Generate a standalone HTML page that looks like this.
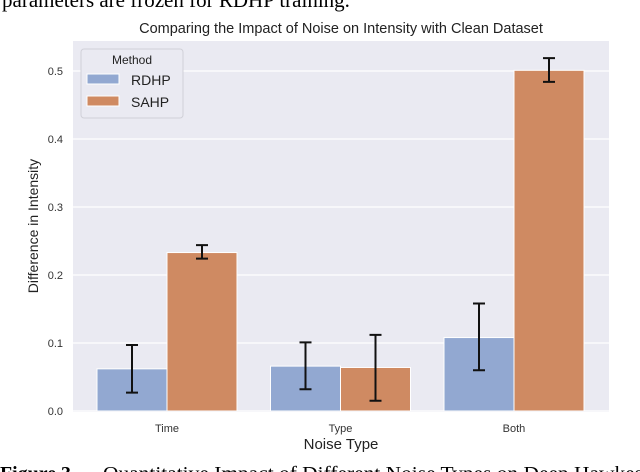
<!DOCTYPE html>
<html><head><meta charset="utf-8"><style>
body{margin:0;background:#fff;width:640px;height:472px;overflow:hidden}
svg{display:block}
</style></head><body>
<svg id="chart" width="640" height="472" xmlns="http://www.w3.org/2000/svg">
<text x="2" y="7" font-family="Liberation Serif, serif" font-size="21" fill="#000">parameters are frozen for RDHP training.</text>
<text x="341" y="33" text-anchor="middle" font-family="Liberation Sans, sans-serif" font-size="14.5" fill="#222">Comparing the Impact of Noise on Intensity with Clean Dataset</text>
<rect x="73" y="41" width="536" height="371" fill="#eaeaf2"/>
<g id="grid"></g>
<g id="bars"></g>
<g id="errs"></g>
<g id="yticks"></g>
<g id="xticks"></g>
<text x="341" y="449" text-anchor="middle" font-family="Liberation Sans, sans-serif" font-size="15" fill="#222">Noise Type</text>
<text transform="translate(38,226) rotate(-90)" text-anchor="middle" font-family="Liberation Sans, sans-serif" font-size="14" fill="#222">Difference in Intensity</text>
<g>
<rect x="81" y="49" width="102" height="69" rx="3" fill="#eaeaf2" stroke="#d0d0d8"/>
<text x="132" y="64" text-anchor="middle" font-family="Liberation Sans, sans-serif" font-size="12" fill="#222">Method</text>
<rect x="87" y="74" width="32" height="10" fill="#92a8d1" stroke="#fff"/>
<text x="131" y="85" font-family="Liberation Sans, sans-serif" font-size="14" fill="#222">RDHP</text>
<rect x="87" y="96" width="32" height="10" fill="#cf8a62" stroke="#fff"/>
<text x="131" y="107" font-family="Liberation Sans, sans-serif" font-size="14" fill="#222">SAHP</text>
</g>
<text x="0" y="480" font-family="Liberation Serif, serif" font-size="20" fill="#000"><tspan font-weight="bold" textLength="76" lengthAdjust="spacingAndGlyphs">Figure 3.</tspan><tspan x="103" textLength="540" lengthAdjust="spacingAndGlyphs">Quantitative Impact of Different Noise Types on Deep Hawkes</tspan></text>
</svg>
<script>
const categories = ["Time", "Type", "Both"];
const rdhpValues = [0.062, 0.066, 0.108];
const rdhpLow = [0.027, 0.032, 0.060];
const rdhpHigh = [0.097, 0.101, 0.158];
const sahpValues = [0.233, 0.064, 0.501];
const sahpLow = [0.224, 0.015, 0.484];
const sahpHigh = [0.244, 0.112, 0.519];
const yTickLabels = ["0.0", "0.1", "0.2", "0.3", "0.4", "0.5"];
const yTickValues = [0, 0.1, 0.2, 0.3, 0.4, 0.5];

const NS = "http://www.w3.org/2000/svg";
function y(v){ return 411 - v * 680; }
function xc(i){ return 167 + i * 173.5; }
const BW = 70;
function mk(tag, attrs, parent){
  const e = document.createElementNS(NS, tag);
  for (const k in attrs) e.setAttribute(k, attrs[k]);
  document.getElementById(parent).appendChild(e);
  return e;
}
yTickValues.forEach((v, i) => {
  const g = mk("line", {x1:73, x2:609, y1:y(v), y2:y(v), stroke:"#fff", "stroke-width":1.2}, "grid");
  
  
  const t = mk("text", {x:63, y:y(v)+4, "text-anchor":"end", "font-family":"Liberation Sans, sans-serif", "font-size":11, fill:"#333"}, "yticks");
  t.textContent = yTickLabels[i];
  
  
});
categories.forEach((c, i) => {
  const t = mk("text", {x:xc(i), y:432, "text-anchor":"middle", "font-family":"Liberation Sans, sans-serif", "font-size":11, fill:"#333"}, "xticks");
  t.textContent = c;
  
  
  const series = [[rdhpValues, rdhpLow, rdhpHigh, "#92a8d1", -BW], [sahpValues, sahpLow, sahpHigh, "#cf8a62", 0]];
  series.forEach((s, k) => {
    const x0 = xc(i) + s[4];
    const b = mk("rect", {x:x0, y:y(s[0][i]), width:BW, height:y(0) - y(s[0][i]), fill:s[3], stroke:"#fff", "stroke-width":1}, "bars");
    
    
    const cx = x0 + BW / 2;
    const e = mk("path", {d:`M${cx},${y(s[1][i])}V${y(s[2][i])}M${cx-6},${y(s[1][i])}H${cx+6}M${cx-6},${y(s[2][i])}H${cx+6}`, stroke:"#111", "stroke-width":2, fill:"none"}, "errs");
    
    
  });
});
</script>
</body></html>
